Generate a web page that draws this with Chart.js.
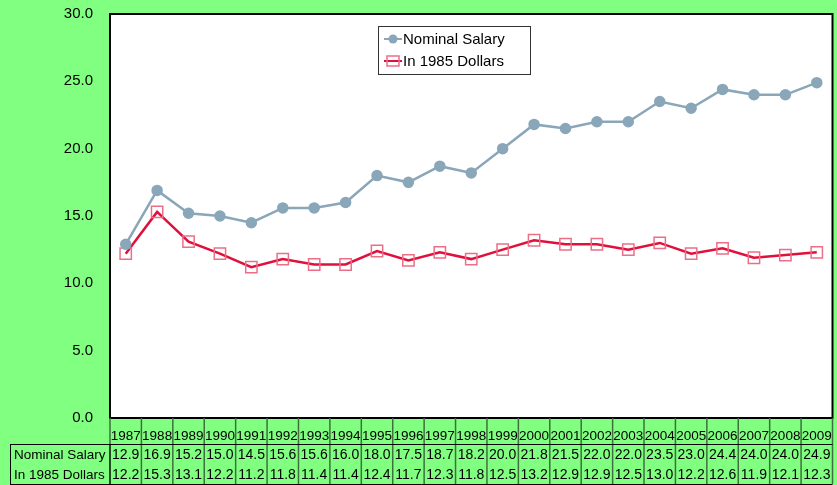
<!DOCTYPE html>
<html>
<head>
<meta charset="utf-8">
<script src="https://cdn.jsdelivr.net/npm/chart.js@4/dist/chart.umd.min.js"></script>
<style>
  html, body { margin: 0; padding: 0; background: #80ff80; overflow: hidden; }
  #wrap { width: 837px; height: 485px; overflow: hidden; }
</style>
</head>
<body>
<div id="wrap"><canvas id="myChart" width="842" height="485"></canvas></div>
<script>
let years = ["1987","1988","1989","1990","1991","1992","1993","1994","1995","1996","1997","1998",
             "1999","2000","2001","2002","2003","2004","2005","2006","2007","2008","2009"];
let nominal = [12.9,16.9,15.2,15.0,14.5,15.6,15.6,16.0,18.0,17.5,18.7,18.2,20.0,21.8,21.5,22.0,22.0,23.5,23.0,24.4,24.0,24.0,24.9];
let dollars1985 = [12.2,15.3,13.1,12.2,11.2,11.8,11.4,11.4,12.4,11.7,12.3,11.8,12.5,13.2,12.9,12.9,12.5,13.0,12.2,12.6,11.9,12.1,12.3];
let seriesNames = ["Nominal Salary","In 1985 Dollars"];
let yTicks = [0,5,10,15,20,25,30];

const FONT = "Liberation Sans, Arial, sans-serif";

// fondo verde, area blanca, borde y tabla de datos
const tablePlugin = {
  id: "tablePlugin",
  beforeDraw(chart) {
    const c = chart.ctx, a = chart.chartArea;
    c.save();
    c.fillStyle = "#80ff80";
    c.fillRect(0, 0, chart.width, chart.height);
    c.fillStyle = "#ffffff";
    c.fillRect(a.left, a.top, a.right - a.left, a.bottom - a.top);
    c.restore();
  },
  afterDraw(chart) {
    const c = chart.ctx, a = chart.chartArea;
    const x = chart.scales.x;
    const n = years.length;
    const w = (a.right - a.left) / n;
    c.save();
    // borde del grafico
    c.strokeStyle = "#000";
    c.lineWidth = 2;
    c.strokeRect(a.left, a.top, a.right - a.left, a.bottom - a.top);

    const rowTop = 444, rowBottom = 484, left = 10;
    // lineas verticales de la tabla
    c.strokeStyle = "#3f6f3f";
    c.lineWidth = 1.5;
    for (let i = 0; i <= n; i++) {
      let px = a.left + i * w;
      c.beginPath();
      c.moveTo(px, a.bottom);
      c.lineTo(px, rowBottom);
      c.stroke();
    }
    // lineas horizontales
    c.strokeStyle = "#000";
    c.lineWidth = 1;
    c.beginPath();
    c.moveTo(left, rowTop + 0.5); c.lineTo(a.right, rowTop + 0.5);
    c.moveTo(left, rowBottom + 0.5); c.lineTo(a.right, rowBottom + 0.5);
    c.moveTo(left + 0.5, rowTop); c.lineTo(left + 0.5, rowBottom);
    c.moveTo(a.left, rowTop); c.lineTo(a.left, rowBottom);
    c.stroke();

    // textos
    c.fillStyle = "#000";
    c.textBaseline = "middle";
    c.font = "13.5px " + FONT;
    c.textAlign = "center";
    years.forEach((yr, i) => {
      c.fillText(yr, x.getPixelForValue(i), 436);
    });
    c.font = "14px " + FONT;
    nominal.forEach((v, i) => {
      c.fillText(v.toFixed(1), x.getPixelForValue(i), 455);
    });
    dollars1985.forEach((v, i) => {
      c.fillText(v.toFixed(1), x.getPixelForValue(i), 475);
    });
    c.textAlign = "left";
    c.font = "13.5px " + FONT;
    c.fillText(seriesNames[0], 14, 455);
    c.fillText(seriesNames[1], 14, 475);

    // leyenda
    const lx = 378, ly = 26, lw = 152, lh = 48;
    c.fillStyle = "#fff";
    c.fillRect(lx, ly, lw, lh);
    c.strokeStyle = "#333";
    c.lineWidth = 1;
    c.strokeRect(lx + 0.5, ly + 0.5, lw, lh);
    chart.data.datasets.forEach((ds, i) => {
      let yy = ly + 13 + i * 22;
      c.strokeStyle = ds.borderColor;
      c.lineWidth = 2;
      c.beginPath();
      c.moveTo(lx + 6, yy); c.lineTo(lx + 24, yy);
      c.stroke();
      if (i == 0) {
        c.fillStyle = ds.pointBackgroundColor;
        c.beginPath();
        c.arc(lx + 15, yy, 4.5, 0, Math.PI * 2);
        c.fill();
      } else {
        c.strokeStyle = ds.pointBorderColor;
        c.lineWidth = 1.5;
        c.strokeRect(lx + 9, yy - 5, 12, 10);
      }
      c.fillStyle = "#000";
      c.font = "15px " + FONT;
      c.textAlign = "left";
      c.fillText(ds.label, lx + 25, yy + 1);
    });
    c.restore();
  }
};

const data = {
  labels: years,
  datasets: [{
    label: seriesNames[0],
    data: nominal,
    borderColor: "#8aa6b9",
    backgroundColor: "#8aa6b9",
    pointBackgroundColor: "#8aa6b9",
    pointBorderColor: "#8aa6b9",
    borderWidth: 2.5,
    pointRadius: 4.5,
    pointStyle: "circle",
    tension: 0
  }, {
    label: seriesNames[1],
    data: dollars1985,
    borderColor: "#e0103c",
    backgroundColor: "rgba(0,0,0,0)",
    pointBackgroundColor: "rgba(0,0,0,0)",
    pointBorderColor: "#ec6f88",
    pointBorderWidth: 1.5,
    borderWidth: 2.5,
    pointRadius: 8,
    pointStyle: "rect",
    tension: 0
  }]
};

const config = {
  type: "line",
  data: data,
  options: {
    responsive: false,
    animation: false,
    layout: { padding: { left: 0, right: 0, top: 14, bottom: 67 } },
    plugins: { legend: { display: false }, tooltip: { enabled: false } },
    scales: {
      x: {
        offset: true,
        display: false,
        grid: { display: false }
      },
      y: {
        min: 0,
        max: 30,
        afterFit(scale) {
          scale.width = 110;
          scale.paddingTop = 0;
          scale.paddingBottom = 0;
        },
        afterBuildTicks(scale) { scale.ticks = yTicks.map(v => ({ value: v })); },
        grid: { display: false, drawTicks: false },
        border: { display: false },
        ticks: {
          color: "#000",
          padding: 17,
          font: { family: FONT, size: 15 },
          callback: v => v.toFixed(1)
        }
      }
    }
  },
  plugins: [tablePlugin]
};

new Chart(document.getElementById("myChart"), config);
</script>
</body>
</html>
